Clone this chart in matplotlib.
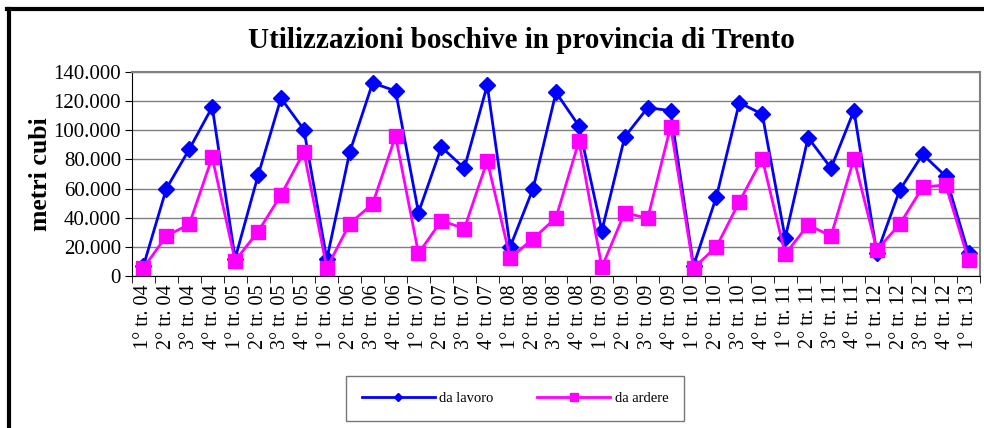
import numpy as np
import matplotlib
matplotlib.use("Agg")
import matplotlib.pyplot as plt
from matplotlib.lines import Line2D
from matplotlib.ticker import FuncFormatter, FixedLocator

plt.rcParams['font.family'] = ['Liberation Serif', 'DejaVu Serif']

# quarters 1° tr. 04 ... 1° tr. 13
quarters = []
for yy in range(4, 14):
    for q in range(1, 5):
        quarters.append("%d° tr. %02d" % (q, yy))
quarters = quarters[:37]

# metri cubi
da_lavoro = [7000, 60000, 87000, 116000, 12000, 69000, 122000, 100500, 11500,
             85000, 132500, 127000, 43500, 88500, 74000, 131000, 20000, 60000,
             126000, 103000, 31000, 95500, 115500, 113500, 7000, 54500, 119000,
             111000, 26000, 95000, 74000, 113500, 15500, 59000, 83500, 68500, 15500]
da_ardere = [5500, 27500, 35500, 81500, 10500, 30500, 55500, 85000, 5500,
             36000, 49500, 96000, 15500, 38000, 32500, 79000, 12500, 25500,
             40000, 92500, 6000, 43500, 39500, 102500, 5500, 20000, 51000,
             80500, 15000, 35000, 27500, 80500, 18000, 35500, 61000, 62500, 11000]

W, H = 984, 428
fig = plt.figure(figsize=(W / 100, H / 100), dpi=100)

# left and top frame of the chart area (the rest is cut off)
fig.add_artist(Line2D([8.5 / W, 8.5 / W], [0, 1 - 8.5 / H], transform=fig.transFigure,
                      color='black', lw=3))
fig.add_artist(Line2D([7 / W, 1], [1 - 8.5 / H, 1 - 8.5 / H], transform=fig.transFigure,
                      color='black', lw=3))

ax = fig.add_axes([132 / W, 1 - 276 / H, 848 / W, 204 / H])
x = np.arange(len(quarters))

ax.plot(x, da_lavoro, color='#0000FF', lw=2, marker='D', markersize=8.5,
        zorder=3, clip_on=False)
ax.plot(x, da_ardere, color='#FF00FF', lw=2, marker='s', markersize=10,
        zorder=4, clip_on=False)

ax.set_xlim(-0.5, len(quarters) - 0.5)
ax.set_ylim(0, 140000)
ax.set_yticks(np.arange(0, 140001, 20000))
ax.yaxis.set_major_formatter(FuncFormatter(lambda v, p: "{:,.0f}".format(v).replace(",", ".")))
ax.grid(axis='y', color='#808080', lw=1)
ax.set_axisbelow(True)

ax.set_xticks(x)
ax.set_xticklabels(quarters, rotation=90)
ax.xaxis.set_minor_locator(FixedLocator(np.arange(-0.5, len(quarters), 1)))
ax.tick_params(axis='x', which='major', length=0, pad=6, labelsize=14.5)
ax.tick_params(axis='x', which='minor', length=5, direction='out', color='black')
ax.tick_params(axis='y', length=5, direction='out', labelsize=15, pad=3)

ax.spines['left'].set_color('black')
ax.spines['bottom'].set_color('black')
ax.spines['top'].set_color('#808080')
ax.spines['right'].set_color('#808080')
ax.spines['top'].set_linewidth(1.5)
ax.spines['right'].set_linewidth(1.5)

ax.set_ylabel("metri cubi", fontsize=18.5, fontweight='bold', labelpad=1)
fig.text(521 / W, 1 - 40 / H, "Utilizzazioni boschive in provincia di Trento",
         ha='center', va='center', fontsize=21, fontweight='bold')

handles = [Line2D([], [], color='#0000FF', lw=2, marker='D', markersize=4),
           Line2D([], [], color='#FF00FF', lw=2, marker='s', markersize=5.5)]
leg = fig.legend(handles, ["da lavoro", "da ardere"], loc='center',
                 bbox_to_anchor=(515 / W, 1 - 398.5 / H), ncol=2, fontsize=10.5,
                 frameon=True, fancybox=False, edgecolor='#555555',
                 handlelength=5, columnspacing=3.0, borderpad=1.1,
                 borderaxespad=0, handletextpad=0.3)
leg.get_frame().set_linewidth(1)

fig.savefig("out.png", dpi=100)
